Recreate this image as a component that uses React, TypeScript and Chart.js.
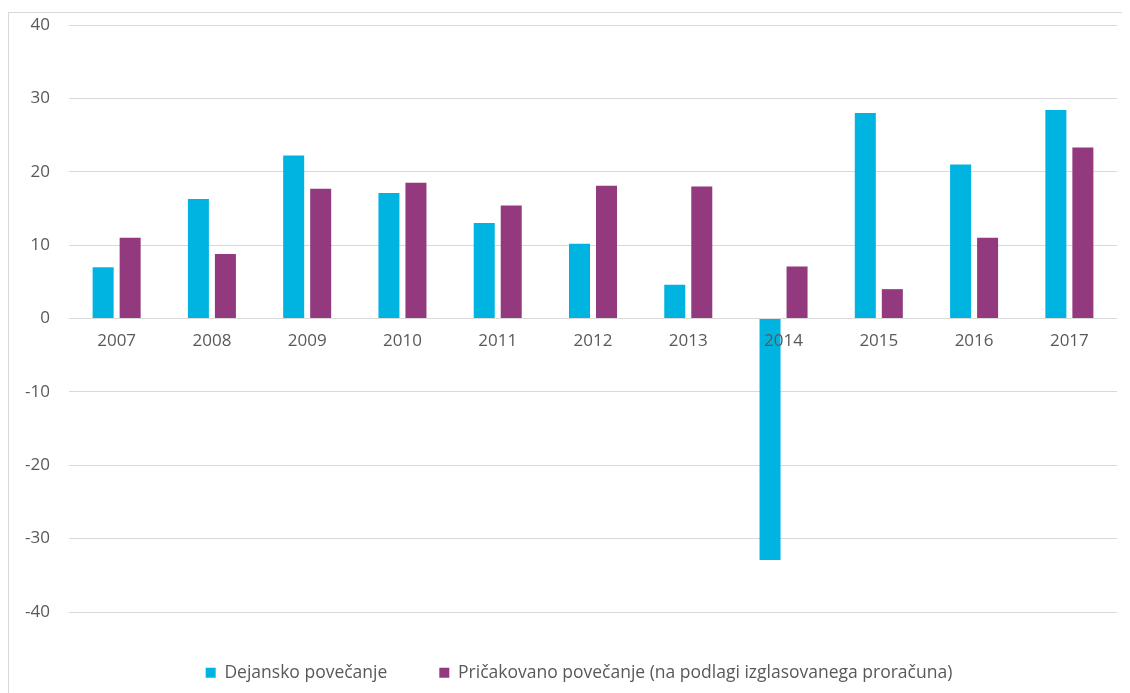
import React, { useEffect, useRef } from "react";
import { Chart, registerables } from "chart.js";

Chart.register(...registerables);

const categories = ["2007", "2008", "2009", "2010", "2011", "2012", "2013", "2014", "2015", "2016", "2017"];
const actualIncrease = [7.0, 16.3, 22.2, 17.1, 13.0, 10.2, 4.6, -32.9, 28.0, 21.0, 28.4];
const expectedIncrease = [11.0, 8.8, 17.7, 18.5, 15.4, 18.1, 18.0, 7.1, 4.0, 11.0, 23.3];
const seriesNames = ["Dejansko povečanje", "Pričakovano povečanje (na podlagi izglasovanega proračuna)"];
const yTicks = [-40, -30, -20, -10, 0, 10, 20, 30, 40];

const FONT = "'Open Sans', Lato, sans-serif";
const TEXT = "#595959";
const GRID = "#d9d9d9";

const legendShift = {
  id: "legendShift",
  afterLayout(chart: any) {
    if (chart.legend) {
      chart.legend.left -= 14;
      chart.legend.right -= 14;
    }
  },
};

export default function App() {
  const ref = useRef<HTMLCanvasElement | null>(null);
  useEffect(() => {
    if (!ref.current) return;
    const chart = new Chart(ref.current, {
      type: "bar",
      data: {
        labels: categories,
        datasets: [
          {
            label: seriesNames[0],
            data: actualIncrease,
            backgroundColor: "#00B4E2",
            borderWidth: 0,
            categoryPercentage: 0.567,
            barPercentage: 0.778,
          },
          {
            label: seriesNames[1],
            data: expectedIncrease,
            backgroundColor: "#933A7E",
            borderWidth: 0,
            categoryPercentage: 0.567,
            barPercentage: 0.778,
          },
        ],
      },
      plugins: [legendShift],
      options: {
        animation: false,
        responsive: false,
        maintainAspectRatio: false,
        layout: { padding: { top: 17, right: 13, bottom: 1.5, left: 0 } },
        plugins: {
          tooltip: { enabled: false },
          legend: {
            position: "bottom",
            fullSize: false,
            labels: {
              color: TEXT,
              font: { family: FONT, size: 17.5 },
              boxWidth: 10,
              boxHeight: 10,
              padding: 52,
            },
          },
        },
        scales: {
          x: {
            position: { y: 0 } as any,
            grid: { display: false, drawTicks: false },
            border: { display: false },
            ticks: { color: TEXT, font: { family: FONT, size: 17 }, padding: 12, z: 1 } as any,
            afterFit: (scale: any) => {
              scale.height = 0;
            },
          },
          y: {
            min: -40,
            max: 40,
            afterBuildTicks: (scale: any) => {
              scale.ticks = yTicks.map((v) => ({ value: v }));
            },
            grid: { color: GRID, lineWidth: 1, drawTicks: true, tickLength: 19, tickColor: "rgba(0,0,0,0)" },
            border: { display: false },
            ticks: { color: TEXT, font: { family: FONT, size: 17 }, padding: 0 },
            afterFit: (scale: any) => {
              scale.width = 61;
            },
          },
        },
      },
    });
    return () => chart.destroy();
  }, []);

  return (
    <div style={{ position: "relative", width: 1122, height: 685, overflow: "hidden" }}>
      <div
        style={{
          position: "absolute",
          left: 0,
          top: 4,
          width: 1140,
          height: 700,
          border: `1px solid ${GRID}`,
          boxSizing: "border-box",
        }}
      />
      <canvas ref={ref} width={1122} height={685} style={{ position: "absolute", left: 0, top: 0 }} />
    </div>
  );
}
